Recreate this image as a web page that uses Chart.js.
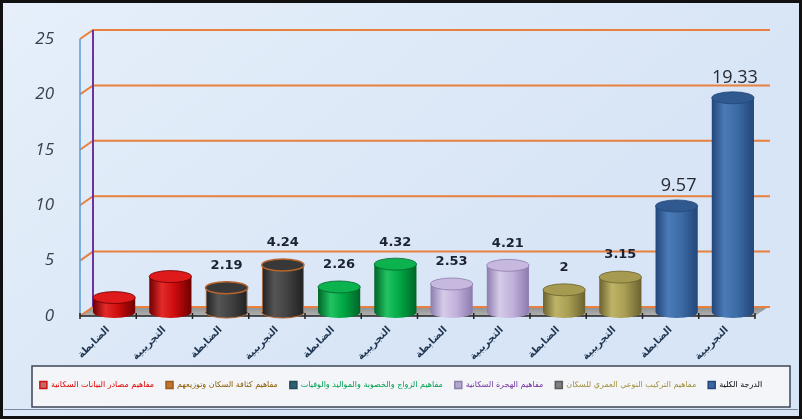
<!DOCTYPE html>
<html>
<head>
<meta charset="utf-8">
<script src="https://cdn.jsdelivr.net/npm/chart.js@4/dist/chart.umd.min.js"></script>
<style>
  html, body { margin: 0; padding: 0; background: #ffffff; }
  #wrap { width: 802px; height: 419px; }
</style>
</head>
<body>
<div id="wrap"><canvas id="chart" width="802" height="419"></canvas></div>
<script>
// values
const categories = ["الضابطة", "التجريبية", "الضابطة", "التجريبية", "الضابطة", "التجريبية",
                    "الضابطة", "التجريبية", "الضابطة", "التجريبية", "الضابطة", "التجريبية"];
const values = [1.3, 3.2, 2.19, 4.24, 2.26, 4.32, 2.53, 4.21, 2, 3.15, 9.57, 19.33];
const valueLabels = ["", "", "2.19", "4.24", "2.26", "4.32", "2.53", "4.21", "2", "3.15", "9.57", "19.33"];
const barGroup = [0, 0, 1, 1, 2, 2, 3, 3, 4, 4, 5, 5];
const yMax = 25;
const yStep = 5;

const legendNames = [
    "مفاهيم مصادر البيانات السكانية",
    "مفاهيم كثافة السكان وتوزيعهم",
    "مفاهيم الزواج والخصوبة والمواليد والوفيات",
    "مفاهيم الهجرة السكانية",
    "مفاهيم التركيب النوعي العمري للسكان",
    "الدرجة الكلية"
];

// colours: [dark edge, body, highlight, cap]
const groupColors = [
    ["#6e0000", "#cc0c0c", "#e42a2a", "#de1a1a"],
    ["#202020", "#424242", "#555555", "#383838"],
    ["#006428", "#00a844", "#22c262", "#0cb24e"],
    ["#8c7cae", "#c2b2dc", "#d6cae8", "#c6b8de"],
    ["#6a6230", "#aa9e54", "#bfb368", "#a69a50"],
    ["#22467a", "#3c6ca6", "#4b7bb6", "#30598f"]
];
const groupBorders = [null, "#b8642c", null, null, null, null];
const legendSwatch = ["#c06a62", "#c0762e", "#2e5f74", "#b3a9cf", "#7f7f7f", "#3a66a4"];
const legendSwatchBorder = ["#d01010", "#9a5a1a", "#1e4a5a", "#8a80a8", "#5a5a5a", "#24467a"];
const legendTextColors = ["#e00000", "#8a5a00", "#00a050", "#7030a0", "#a09040", "#000000"];

// 3d offsets of the back wall and the front edge from the bar plane
const FRONT = { dx: -6, dy: 4 };
const BACK = { dx: 7, dy: -5 };

function barGradient(chart, i) {
    const xs = chart.scales.x;
    const c = groupColors[barGroup[i]];
    if (!xs || xs.width === undefined) return c[1];
    const cx = xs.getPixelForValue(i);
    const w = xs.width / categories.length * 0.75;
    const g = chart.ctx.createLinearGradient(cx - w / 2, 0, cx + w / 2, 0);
    g.addColorStop(0, c[0]);
    g.addColorStop(0.3, c[2]);
    g.addColorStop(0.6, c[1]);
    g.addColorStop(1, c[0]);
    return g;
}

const backgroundPlugin = {
    id: "background",
    beforeDraw(chart) {
        const { ctx, width, height, chartArea, scales } = chart;
        ctx.save();
        const bg = ctx.createLinearGradient(0, 0, width * 0.4, height);
        bg.addColorStop(0, "#e6effa");
        bg.addColorStop(1, "#d8e5f6");
        ctx.fillStyle = bg;
        ctx.fillRect(0, 0, width, height);

        // legend frame
        ctx.fillStyle = "#f3f5f8";
        ctx.fillRect(32, 366, 758, 41);
        ctx.strokeStyle = "#3c4656";
        ctx.lineWidth = 1.5;
        ctx.strokeRect(32, 366, 758, 41);

        // outer frame
        ctx.strokeStyle = "#111111";
        ctx.lineWidth = 3;
        ctx.strokeRect(1.5, 1.5, width - 3, height - 3);
        ctx.strokeStyle = "#7a8aa0";
        ctx.lineWidth = 1;
        ctx.beginPath();
        ctx.moveTo(4, height - 9.5);
        ctx.lineTo(width - 4, height - 9.5);
        ctx.stroke();

        // walls, grid, floor
        const ys = scales.y;
        const left = chartArea.left, right = chartArea.right;
        const y0 = ys.getPixelForValue(0);
        const yTop = ys.getPixelForValue(yMax);

        // floor
        const floor = ctx.createLinearGradient(0, y0 + BACK.dy, 0, y0 + FRONT.dy);
        floor.addColorStop(0, "#8e8e8e");
        floor.addColorStop(1, "#b4b4b4");
        ctx.fillStyle = floor;
        ctx.beginPath();
        ctx.moveTo(left + FRONT.dx, y0 + FRONT.dy);
        ctx.lineTo(left + BACK.dx, y0 + BACK.dy);
        ctx.lineTo(right + BACK.dx, y0 + BACK.dy);
        ctx.lineTo(right + FRONT.dx, y0 + FRONT.dy);
        ctx.closePath();
        ctx.fill();

        ctx.strokeStyle = "#e8803e";
        ctx.lineWidth = 2;
        for (let v = 0; v <= yMax; v += yStep) {
            const y = ys.getPixelForValue(v);
            ctx.beginPath();
            ctx.moveTo(left + FRONT.dx, y + FRONT.dy);
            ctx.lineTo(left + BACK.dx, y + BACK.dy);
            ctx.lineTo(right + BACK.dx + 2, y + BACK.dy);
            ctx.stroke();
        }

        ctx.lineWidth = 1.5;
        ctx.strokeStyle = "#5b9bd5";
        ctx.beginPath();
        ctx.moveTo(left + FRONT.dx, yTop + FRONT.dy);
        ctx.lineTo(left + FRONT.dx, y0 + FRONT.dy);
        ctx.stroke();
        ctx.lineWidth = 2;
        ctx.strokeStyle = "#7030a0";
        ctx.beginPath();
        ctx.moveTo(left + BACK.dx, yTop + BACK.dy);
        ctx.lineTo(left + BACK.dx, y0 + BACK.dy);
        ctx.stroke();

        // front axis line with category ticks
        ctx.strokeStyle = "#222222";
        ctx.lineWidth = 1.5;
        ctx.beginPath();
        ctx.moveTo(left + FRONT.dx, y0 + FRONT.dy);
        ctx.lineTo(right + FRONT.dx, y0 + FRONT.dy);
        const step = (right - left) / categories.length;
        for (let i = 0; i <= categories.length; i++) {
            const x = left + FRONT.dx + i * step;
            ctx.moveTo(x, y0 + FRONT.dy - 3);
            ctx.lineTo(x, y0 + FRONT.dy + 3);
        }
        ctx.stroke();
        ctx.restore();
    }
};

const cylinderPlugin = {
    id: "cylinder",
    afterDatasetsDraw(chart) {
        const { ctx } = chart;
        const meta = chart.getDatasetMeta(0);
        ctx.save();
        meta.data.forEach((bar, i) => {
            const g = barGroup[i];
            const rx = bar.width / 2;
            const ry = 6;
            // rounded bottom
            ctx.fillStyle = barGradient(chart, i);
            ctx.beginPath();
            ctx.ellipse(bar.x, bar.base, rx, ry, 0, 0, Math.PI);
            ctx.fill();
            if (groupBorders[g]) {
                ctx.strokeStyle = groupBorders[g];
                ctx.lineWidth = 1;
                ctx.stroke();
            }
            // top cap
            ctx.fillStyle = groupColors[g][3];
            ctx.beginPath();
            ctx.ellipse(bar.x, bar.y, rx, ry, 0, 0, Math.PI * 2);
            ctx.fill();
            ctx.strokeStyle = groupBorders[g] || groupColors[g][0];
            ctx.lineWidth = groupBorders[g] ? 1.5 : 0.8;
            ctx.stroke();
        });

        // value labels
        ctx.textAlign = "center";
        ctx.textBaseline = "middle";
        meta.data.forEach((bar, i) => {
            if (!valueLabels[i]) return;
            if (values[i] > 5) {
                ctx.font = "18px 'Open Sans'";
                ctx.fillStyle = "#262a33";
                ctx.fillText(valueLabels[i], bar.x + 2, bar.y - 20);
            } else {
                ctx.font = "bold 13px 'DejaVu Sans'";
                ctx.fillStyle = "#1c2230";
                ctx.fillText(valueLabels[i], bar.x, bar.y - 22);
            }
        });
        ctx.restore();
    }
};

new Chart(document.getElementById("chart"), {
    type: "bar",
    data: {
        labels: categories,
        datasets: [{
            data: values,
            backgroundColor: (c) => barGradient(c.chart, c.dataIndex),
            borderColor: (c) => groupBorders[barGroup[c.dataIndex]] || "rgba(0,0,0,0)",
            borderWidth: (c) => groupBorders[barGroup[c.dataIndex]] ? 1 : 0,
            categoryPercentage: 1,
            barPercentage: 0.75
        }]
    },
    options: {
        responsive: false,
        animation: false,
        layout: { padding: { top: 35, right: 0, left: 0, bottom: 20 } },
        plugins: {
            tooltip: { enabled: false },
            legend: {
                position: "bottom",
                align: "center",
                labels: {
                    boxWidth: 7,
                    boxHeight: 7,
                    padding: 12,
                    font: { family: "'DejaVu Sans'", size: 8 },
                    generateLabels: () => legendNames.map((name, i) => ({
                        text: name,
                        fillStyle: legendSwatch[i],
                        strokeStyle: legendSwatchBorder[i],
                        lineWidth: 1.5,
                        fontColor: legendTextColors[i],
                        hidden: false,
                        datasetIndex: 0,
                        index: i
                    }))
                }
            }
        },
        scales: {
            x: {
                grid: { display: false },
                border: { display: false },
                ticks: {
                    maxRotation: 45,
                    minRotation: 45,
                    padding: 4,
                    labelOffset: -6,
                    color: "#1f3550",
                    font: { family: "'DejaVu Sans'", size: 10, weight: "bold" }
                },
                afterFit: (scale) => { scale.height = 57; }
            },
            y: {
                min: 0,
                max: yMax,
                grid: { display: false },
                border: { display: false },
                ticks: {
                    stepSize: yStep,
                    padding: 24,
                    labelOffset: 4,
                    color: "#3a3f4c",
                    font: { family: "'Open Sans'", size: 17, style: "italic" }
                },
                afterFit: (scale) => { scale.width = 86; }
            },
            // empty right-hand axis that only reserves the margin beside the plot
            yRight: {
                position: "right",
                grid: { display: false },
                border: { display: false },
                ticks: { display: false },
                afterFit: (scale) => { scale.width = 41; }
            }
        }
    },
    plugins: [backgroundPlugin, cylinderPlugin]
});
</script>
</body>
</html>
